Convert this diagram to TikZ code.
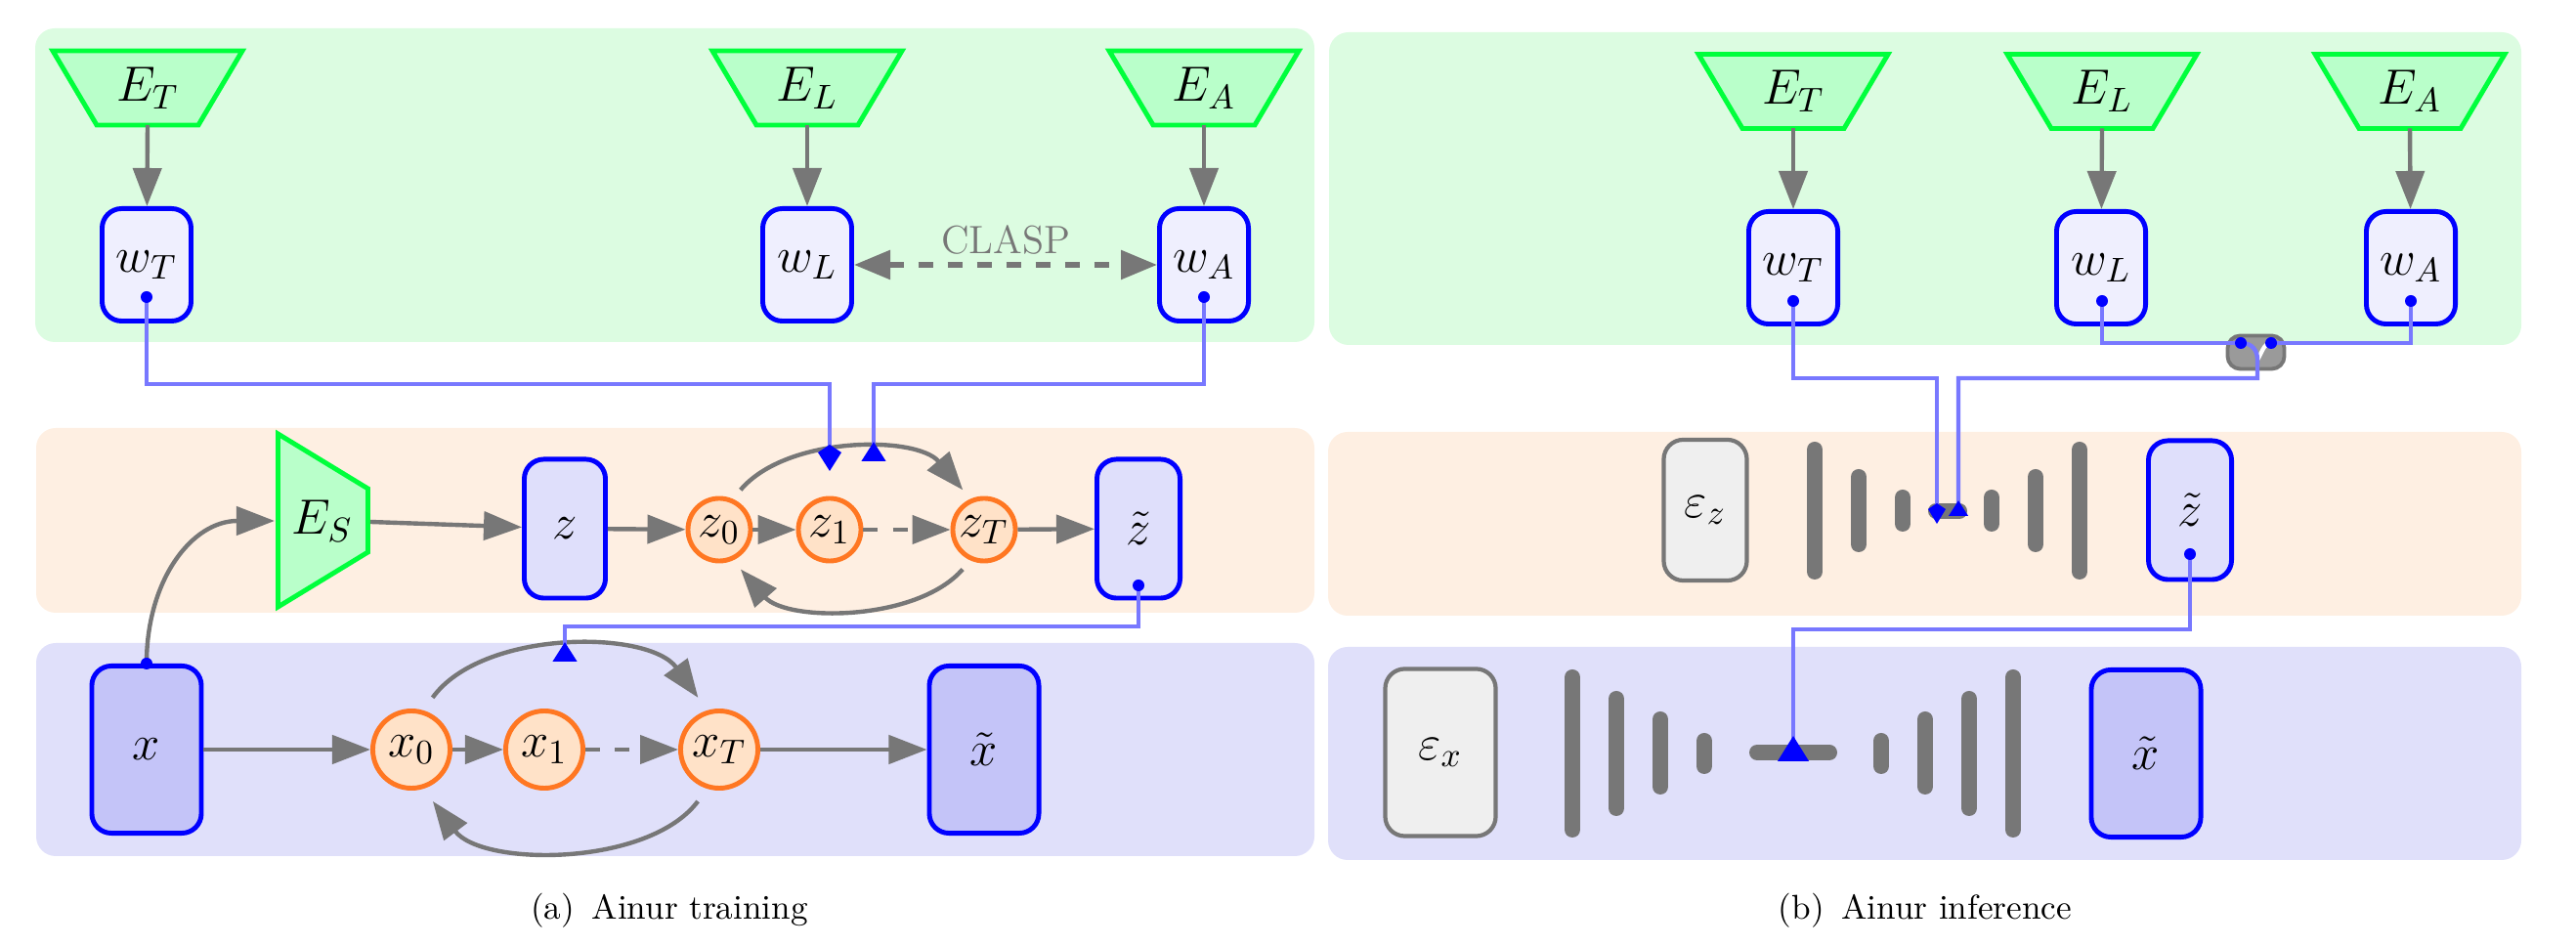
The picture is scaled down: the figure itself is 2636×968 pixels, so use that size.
\documentclass[tikz,border=0pt]{standalone}
\usetikzlibrary{arrows.meta}
\definecolor{pgreen}{HTML}{DCFCE1}
\definecolor{porange}{HTML}{FEEFE2}
\definecolor{pblue}{HTML}{E0E0FA}
\definecolor{tgreenf}{HTML}{B9FFCA}
\definecolor{tgreen}{HTML}{00FF3C}
\definecolor{wfill}{HTML}{EFEFFE}
\definecolor{zfill}{HTML}{DFDFFB}
\definecolor{xfill}{HTML}{C4C4F8}
\definecolor{cfill}{HTML}{FFE2C8}
\definecolor{corange}{HTML}{FF7722}
\definecolor{ggray}{HTML}{777777}
\definecolor{lblue}{HTML}{7878FF}
\definecolor{efill}{HTML}{EFEFEF}
\definecolor{combfill}{HTML}{9A9A9A}
\tikzset{
 panel/.style={rounded corners=0.2cm},
 enc/.style={draw=tgreen, fill=tgreenf, line width=1.4pt, line join=miter},
 lbl/.style={inner sep=0pt, font=\Large},
 wbox/.style={draw=blue, fill=wfill, line width=1.4pt, rounded corners=0.2cm, minimum width=0.91cm, minimum height=1.15cm, inner sep=0pt, font=\Large},
 zbox/.style={wbox, fill=zfill, minimum width=0.83cm, minimum height=1.42cm},
 xbox/.style={wbox, fill=xfill, minimum width=1.12cm, minimum height=1.71cm},
 ebox/.style={draw=ggray, fill=efill, line width=1.2pt, rounded corners=0.2cm, inner sep=0pt, font=\Large},
 state/.style={circle, draw=corange, fill=cfill, line width=1.4pt, inner sep=0pt, font=\Large},
 garrow/.style={draw=ggray, line width=1.25pt, -{Triangle[length=0.39cm,width=0.29cm]}},
 gdash/.style={dash pattern=on 0.15cm off 0.15cm},
 bar/.style={draw=ggray, line width=0.16cm, line cap=round},
 bline/.style={draw=lblue, line width=1.25pt},
 comb/.style={draw=ggray, fill=combfill, line width=1.1pt, rounded corners=0.13cm, minimum width=0.58cm, minimum height=0.34cm, inner sep=0pt},
}
\newcommand{\TrapDown}[4]{%
  \draw[enc] (#1-97,#2-38) -- (#1+97,#2-38) -- (#1+52,#2+38) -- (#1-52,#2+38) -- cycle;
  \node[lbl] (#3) at (#1,#2) {#4};
  \coordinate (#3b) at (#1,#2+38);}
\begin{document}
\begin{tikzpicture}[x=0.01cm,y=-0.01cm]
\useasboundingbox (0,0) rectangle (2636,968);
% panels
\fill[pgreen, panel] (36,29) rectangle (1345,350);
\fill[porange, panel] (37,438) rectangle (1345,627);
\fill[pblue, panel] (37,658) rectangle (1345,876);
\fill[pgreen, panel] (1360,33) rectangle (2580,353);
\fill[porange, panel] (1359,442) rectangle (2580,630);
\fill[pblue, panel] (1359,662) rectangle (2580,880);

% ===== (a) training =====
\TrapDown{151}{90}{ET}{$E_T$}
\TrapDown{826}{90}{EL}{$E_L$}
\TrapDown{1232}{90}{EA}{$E_A$}
\node[wbox] (wT) at (150,271) {$w_T$};
\node[wbox] (wL) at (826,271) {$w_L$};
\node[wbox] (wA) at (1232,271) {$w_A$};
\draw[garrow] (ETb) -- (wT);
\draw[garrow] (ELb) -- (wL);
\draw[garrow] (EAb) -- (wA);
\draw[draw=ggray, line width=1.6pt, gdash, {Triangle[length=0.37cm,width=0.29cm]}-{Triangle[length=0.37cm,width=0.29cm]}] (wL) -- (wA);
\node[text=ggray, font=\fontsize{11.5}{13}\selectfont] (clasp) at (1029,246) {CLASP};

% z row
\draw[enc] (284.5,444) -- (376.5,500) -- (376.5,565) -- (284.5,621) -- cycle;
\node[lbl] (ES) at (330,533) {$E_S$};
\coordinate (ESw) at (281,533);
\coordinate (ESe) at (379,534);
\node[zbox] (z) at (578,541) {$z$};
\node[state, minimum size=0.64cm] (z0) at (736,542) {$z_0$};
\node[state, minimum size=0.64cm] (z1) at (849,542) {$z_1$};
\node[state, minimum size=0.64cm] (zT) at (1007,542) {$z_T$};
\node[zbox, minimum width=0.85cm] (zt) at (1165,541) {$\tilde{z}$};

% x row
\node[xbox] (x) at (150,767) {$x$};
\node[state, minimum size=0.79cm] (x0) at (421,767) {$x_0$};
\node[state, minimum size=0.79cm] (x1) at (557,767) {$x_1$};
\node[state, minimum size=0.79cm] (xT) at (736,767) {$x_T$};
\node[xbox] (xt) at (1007,767) {$\tilde{x}$};

\draw[garrow] (x.north) .. controls +(0,-85) and +(-85,0) .. (ESw);
\draw[garrow] (ESe) -- (z);
\draw[garrow] (z) -- (z0);
\draw[garrow] (z0) -- (z1);
\draw[garrow, gdash] (z1) -- (zT);
\draw[garrow] (zT) -- (zt);
\draw[garrow, shorten <=0.12cm, shorten >=0.12cm] (z0.66) .. controls +(55,-65) and +(-55,-65) .. (zT.114);
\draw[garrow, shorten <=0.12cm, shorten >=0.12cm] (zT.-114) .. controls +(-55,63) and +(55,63) .. (z0.-66);
\draw[garrow] (x) -- (x0);
\draw[garrow] (x0) -- (x1);
\draw[garrow, gdash] (x1) -- (xT);
\draw[garrow] (xT) -- (xt);
\draw[garrow, shorten <=0.16cm, shorten >=0.16cm] (x0.73) .. controls +(60,-83) and +(-60,-83) .. (xT.107);
\draw[garrow, shorten <=0.16cm, shorten >=0.16cm] (xT.-107) .. controls +(-60,80) and +(60,80) .. (x0.-73);

% blue conditioning lines (a)
\coordinate (wTd) at (150,304);
\coordinate (wAd) at (1232,304);
\coordinate (ztd) at (1165,599);
\coordinate (k1) at (849,482);
\coordinate (t1) at (894,472);
\coordinate (t2) at (578,677);
\draw[bline, -{Kite[length=0.27cm,width=0.24cm,inset=0.08cm,color=blue]}] (wTd) -- ++(0,89) -| (k1);
\draw[bline, -{Triangle[reversed,length=0.2cm,width=0.24cm,color=blue]}] (wAd) -- ++(0,89) -| (t1);
\draw[bline, -{Triangle[reversed,length=0.2cm,width=0.24cm,color=blue]}] (ztd) -- ++(0,42) -| (t2);
\fill[blue] (wTd) circle (0.06cm);
\fill[blue] (wAd) circle (0.06cm);
\fill[blue] (ztd) circle (0.06cm);
\fill[blue] (x.north) circle (0.06cm);

% ===== (b) inference =====
\TrapDown{1835}{93.5}{ET2}{$E_T$}
\TrapDown{2151}{93.5}{EL2}{$E_L$}
\TrapDown{2466}{93.5}{EA2}{$E_A$}
\node[wbox] (wT2) at (1835,274) {$w_T$};
\node[wbox] (wL2) at (2150,274) {$w_L$};
\node[wbox] (wA2) at (2467,274) {$w_A$};
\draw[garrow] (ET2b) -- (wT2);
\draw[garrow] (EL2b) -- (wL2);
\draw[garrow] (EA2b) -- (wA2);

\node[ebox, minimum width=0.85cm, minimum height=1.44cm] (ez) at (1745,522) {$\varepsilon_z$};
\node[zbox, minimum width=0.85cm] (zt2) at (2241,522) {$\tilde{z}$};
\node[ebox, minimum width=1.13cm, minimum height=1.71cm] (ex) at (1474,770) {$\varepsilon_x$};
\node[xbox] (xt2) at (2196,771) {$\tilde{x}$};

% bars (z)
\draw[bar] (1857,460) -- (1857,585);
\draw[bar] (1902,488) -- (1902,557);
\draw[bar] (1947,509) -- (1947,536);
\draw[bar] (1981,523) -- (2005,523);
\draw[bar] (2038,509) -- (2038,536);
\draw[bar] (2083,488) -- (2083,557);
\draw[bar] (2128,460) -- (2128,585);
% bars (x)
\draw[bar] (1609,693) -- (1609,849);
\draw[bar] (1654,715) -- (1654,827);
\draw[bar] (1699,736) -- (1699,805);
\draw[bar] (1744,758) -- (1744,784);
\draw[bar] (1798,770) -- (1872,770);
\draw[bar] (1925,758) -- (1925,784);
\draw[bar] (1970,736) -- (1970,805);
\draw[bar] (2015,715) -- (2015,827);
\draw[bar] (2060,693) -- (2060,849);

\node[comb] (cmb) at (2308.5,360.5) {};
\coordinate (wTd2) at (1835,308);
\coordinate (wLd2) at (2151,308);
\coordinate (wAd2) at (2467,308);
\coordinate (ztd2) at (2241,567);
\coordinate (k2) at (1982,536);
\coordinate (t3) at (2004,528);
\coordinate (t4) at (1835,779);
\coordinate (cL) at (2293,351);
\coordinate (cR) at (2324,351);
\coordinate (cO) at (2310,368);
\draw[bline, -{Kite[length=0.21cm,width=0.18cm,inset=0.06cm,color=blue]}] (wTd2) -- ++(0,79) -| (k2);
\draw[bline] (wLd2) |- (cL);
\draw[bline] (wAd2) |- (cR);
\draw[white, line width=1.2pt] (cR) .. controls +(-8,0) and +(4,-5) .. (cO);
\draw[bline, -{Triangle[reversed,length=0.16cm,width=0.19cm,color=blue]}] (cL) .. controls +(12,0) and +(0,-9) .. (cO) -- ++(0,19) -| (t3);
\draw[bline, -{Triangle[reversed,length=0.26cm,width=0.31cm,color=blue]}] (ztd2) -- ++(0,77) -| (t4);
\foreach \d in {wTd2,wLd2,wAd2,ztd2,cL,cR} \fill[blue] (\d) circle (0.06cm);

% captions
\node (capa) at (685,932) {(a)\hspace{0.5em}Ainur training};
\node (capb) at (1970,932) {(b)\hspace{0.5em}Ainur inference};
\end{tikzpicture}
\end{document}
